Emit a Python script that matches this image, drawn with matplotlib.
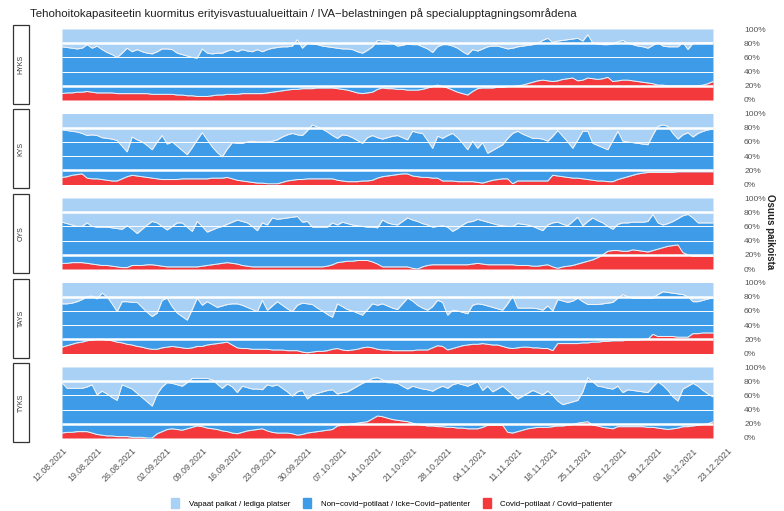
import numpy as np
import pandas as pd
import matplotlib
matplotlib.use('Agg')
from matplotlib import pyplot as plt
from matplotlib.patches import Rectangle, Patch
import matplotlib.dates as mdates

plt.rcParams['font.family'] = ['Liberation Sans', 'DejaVu Sans']

dates = pd.date_range('2021-08-12', periods=131, freq='D')
tick_dates = pd.date_range('2021-08-12', '2021-12-23', freq='7D')
regions = ['HYKS', 'KYS', 'OYS', 'TAYS', 'TYKS']

# occupied share = covid + non-covid patients, % of ICU beds
hyks_occupied = [75, 74, 73, 72, 73, 78, 73, 76, 71, 67, 64, 60, 66, 73, 68, 71, 68, 66, 65, 68,
                 72, 72, 71, 66, 64, 62, 60, 59, 72, 66, 65, 66, 66, 69, 71, 68, 71, 69, 68, 71,
                 68, 71, 73, 74, 75, 75, 76, 85, 73, 80, 79, 78, 76, 75, 74, 73, 72, 72, 71, 68,
                 66, 70, 75, 84, 83, 83, 80, 76, 77, 79, 78, 78, 75, 72, 67, 75, 78, 78, 76, 73,
                 68, 64, 71, 69, 72, 75, 76, 76, 74, 72, 73, 75, 76, 77, 78, 80, 84, 87, 81, 83,
                 84, 85, 86, 87, 83, 92, 80, 79, 78, 78, 79, 82, 84, 80, 78, 76, 75, 73, 77, 81,
                 76, 75, 75, 75, 81, 71, 80, 81, 81, 81, 81]
hyks_covid = [9, 10, 10, 11, 11, 12, 11, 10, 10, 10, 10, 9, 9, 9, 9, 9, 9, 9, 8, 8,
              8, 8, 8, 7, 7, 6, 6, 5, 5, 5, 6, 7, 7, 8, 8, 8, 9, 9, 9, 9,
              9, 10, 11, 12, 13, 14, 15, 15, 16, 16, 16, 17, 17, 17, 17, 16, 15, 14, 12, 10,
              9, 10, 11, 15, 17, 16, 16, 15, 15, 14, 14, 14, 15, 17, 19, 21, 19, 17, 14, 11,
              9, 7, 12, 16, 17, 17, 17, 18, 18, 19, 19, 20, 21, 23, 25, 27, 28, 27, 26, 27,
              29, 30, 31, 27, 28, 31, 30, 29, 30, 32, 26, 27, 28, 28, 27, 26, 25, 24, 23, 21,
              21, 20, 20, 20, 20, 20, 20, 20, 21, 23, 26]

kys_occupied = [77, 76, 75, 74, 72, 69, 70, 69, 66, 65, 64, 62, 54, 46, 67, 63, 60, 55, 49, 60,
                69, 57, 60, 54, 48, 42, 52, 63, 73, 63, 53, 45, 39, 50, 59, 58, 58, 60, 61, 60,
                60, 60, 61, 63, 67, 70, 72, 70, 69, 76, 84, 81, 78, 74, 69, 65, 70, 69, 66, 62,
                58, 66, 69, 66, 64, 66, 68, 69, 66, 63, 75, 73, 72, 62, 51, 68, 65, 69, 72, 66,
                58, 49, 61, 51, 59, 44, 48, 52, 56, 65, 72, 75, 71, 68, 65, 65, 64, 61, 68, 76,
                68, 60, 51, 63, 75, 75, 58, 55, 52, 49, 62, 75, 61, 60, 59, 58, 57, 56, 70, 82,
                84, 82, 72, 64, 70, 73, 67, 72, 75, 77, 78]
kys_covid = [10, 11, 13, 14, 15, 9, 8, 8, 7, 6, 5, 5, 8, 11, 13, 12, 11, 10, 9, 8,
             7, 7, 7, 7, 8, 8, 8, 8, 8, 8, 9, 9, 9, 10, 8, 6, 5, 4, 3, 2,
             2, 1, 1, 1, 3, 5, 6, 7, 7, 8, 8, 8, 8, 8, 8, 6, 5, 4, 4, 4,
             5, 5, 6, 9, 11, 12, 13, 14, 15, 15, 12, 11, 10, 10, 9, 9, 5, 5, 5, 4,
             4, 4, 4, 3, 2, 4, 6, 7, 8, 8, 1, 5, 5, 5, 5, 5, 5, 5, 13, 12,
             11, 10, 9, 9, 8, 7, 6, 5, 5, 4, 4, 7, 9, 11, 13, 15, 16, 17, 17, 17,
             17, 17, 17, 18, 18, 18, 18, 18, 18, 18, 18]

oys_occupied = [66, 64, 62, 60, 60, 65, 60, 59, 59, 59, 58, 57, 56, 61, 56, 50, 56, 62, 67, 65,
                60, 55, 60, 65, 65, 59, 53, 67, 60, 52, 55, 58, 60, 63, 66, 69, 67, 65, 60, 54,
                65, 62, 72, 70, 71, 72, 73, 74, 66, 67, 59, 59, 59, 59, 65, 62, 66, 64, 62, 61,
                60, 59, 59, 58, 69, 65, 63, 62, 67, 72, 69, 67, 64, 62, 59, 60, 61, 59, 53, 57,
                62, 66, 67, 70, 68, 66, 64, 62, 61, 60, 60, 64, 63, 62, 60, 57, 54, 62, 65, 66,
                63, 61, 67, 73, 61, 67, 72, 68, 65, 60, 56, 63, 65, 65, 66, 66, 66, 67, 77, 65,
                62, 64, 67, 71, 75, 77, 72, 65, 65, 65, 65]
oys_covid = [8, 8, 9, 9, 9, 8, 7, 6, 5, 5, 4, 3, 2, 2, 5, 5, 5, 6, 6, 5,
             4, 3, 3, 3, 3, 3, 3, 3, 4, 5, 6, 7, 8, 9, 8, 7, 5, 4, 3, 3,
             3, 3, 3, 3, 3, 3, 3, 3, 3, 3, 3, 3, 3, 4, 6, 9, 10, 11, 11, 12,
             12, 12, 10, 7, 3, 3, 3, 3, 3, 3, 1, 0, 3, 5, 6, 6, 6, 6, 6, 6,
             6, 6, 7, 8, 7, 6, 6, 6, 6, 6, 6, 5, 5, 5, 4, 4, 5, 6, 3, 1,
             3, 4, 5, 7, 9, 11, 13, 16, 20, 25, 26, 26, 25, 25, 27, 26, 25, 24, 26, 28,
             30, 32, 33, 34, 23, 20, 18, 18, 18, 18, 18]

tays_occupied = [70, 70, 71, 73, 76, 80, 81, 77, 85, 80, 70, 59, 73, 73, 72, 72, 65, 58, 52, 57,
                 75, 78, 66, 57, 52, 47, 62, 78, 68, 73, 69, 65, 67, 69, 70, 70, 68, 65, 62, 59,
                 75, 61, 67, 73, 68, 63, 59, 68, 71, 70, 69, 64, 60, 55, 51, 70, 66, 62, 60, 57,
                 54, 62, 70, 68, 70, 67, 64, 62, 70, 78, 74, 68, 64, 61, 66, 75, 72, 54, 61, 60,
                 58, 56, 68, 70, 69, 67, 65, 63, 61, 70, 81, 64, 64, 64, 64, 63, 61, 67, 60, 76,
                 74, 72, 74, 78, 73, 69, 69, 69, 70, 71, 72, 78, 83, 80, 78, 78, 78, 78, 78, 83,
                 87, 86, 85, 84, 83, 80, 73, 73, 75, 77, 78]
tays_covid = [9, 11, 13, 15, 16, 18, 19, 20, 20, 19, 18, 16, 15, 13, 12, 10, 9, 7, 6, 6,
              8, 9, 10, 9, 8, 7, 8, 10, 10, 12, 13, 14, 15, 16, 12, 8, 7, 7, 6, 6,
              6, 6, 5, 5, 5, 4, 4, 4, 2, 1, 2, 3, 3, 4, 6, 7, 5, 4, 5, 6,
              8, 9, 8, 6, 5, 5, 4, 4, 4, 4, 4, 5, 5, 5, 8, 11, 10, 5, 7, 9,
              11, 12, 13, 13, 14, 13, 12, 12, 10, 8, 7, 8, 9, 9, 8, 8, 7, 7, 4, 14,
              14, 14, 14, 14, 15, 15, 16, 16, 17, 17, 18, 18, 18, 19, 19, 19, 20, 20, 27, 24,
              24, 24, 24, 23, 23, 23, 28, 28, 29, 29, 29]

tyks_occupied = [78, 70, 70, 70, 70, 72, 75, 61, 66, 62, 57, 53, 75, 72, 69, 63, 57, 51, 45, 62,
                 72, 78, 77, 75, 73, 78, 84, 84, 84, 84, 82, 76, 70, 76, 72, 64, 73, 71, 69, 69,
                 68, 75, 73, 75, 70, 65, 59, 65, 67, 55, 61, 63, 65, 67, 68, 62, 64, 65, 69, 73,
                 77, 80, 84, 85, 82, 78, 78, 77, 73, 69, 73, 71, 69, 68, 66, 70, 73, 70, 75, 77,
                 75, 73, 76, 79, 67, 73, 65, 69, 73, 67, 61, 55, 59, 63, 67, 64, 61, 66, 60, 52,
                 47, 49, 51, 53, 65, 85, 79, 73, 72, 70, 69, 73, 64, 68, 67, 66, 65, 64, 72, 79,
                 74, 67, 58, 52, 69, 73, 77, 73, 67, 62, 58]
tyks_covid = [7, 8, 8, 9, 9, 9, 7, 5, 4, 3, 3, 2, 2, 2, 1, 1, 1, 0, 0, 6,
              9, 12, 13, 12, 11, 13, 15, 17, 16, 14, 13, 12, 10, 9, 7, 6, 8, 10, 11, 12,
              13, 10, 8, 7, 7, 7, 6, 4, 5, 7, 8, 9, 10, 11, 12, 17, 18, 19, 20, 21,
              22, 23, 27, 31, 30, 28, 26, 25, 24, 23, 21, 19, 18, 17, 17, 16, 16, 15, 15, 14,
              14, 13, 13, 13, 15, 18, 18, 18, 18, 8, 7, 9, 11, 13, 14, 15, 15, 15, 16, 17,
              17, 18, 19, 21, 22, 23, 18, 17, 15, 14, 13, 16, 16, 16, 16, 16, 16, 15, 15, 14,
              13, 12, 13, 14, 16, 16, 17, 18, 19, 20, 23]

occupied = [hyks_occupied, kys_occupied, oys_occupied, tays_occupied, tyks_occupied]
covid = [hyks_covid, kys_covid, oys_covid, tays_covid, tyks_covid]

c_free = '#a9d0f5'
c_noncovid = '#3d9be8'
c_covid = '#f4393d'

W, H = 784, 511
fig = plt.figure(figsize=(W / 100, H / 100), dpi=100)

fig.text(30 / W, 1 - 14 / H,
         'Tehohoitokapasiteetin kuormitus erityisvastuualueittain / IVA\u2212belastningen på specialupptagningsområdena',
         fontsize=8.25, ha='left', va='center', color='#222222')

x0 = mdates.date2num(dates[0])
for i, region in enumerate(regions):
    top = 29 + i * 84.5
    ph = 71
    ax = fig.add_axes([62 / W, 1 - (top + ph) / H, (733 - 62) / W, ph / H])
    occ = np.array(occupied[i])
    cov = np.array(covid[i])
    ax.fill_between(dates, 0, cov, color=c_covid, lw=0)
    ax.fill_between(dates, cov, occ, color=c_noncovid, lw=0)
    ax.fill_between(dates, occ, 100, color=c_free, lw=0)
    ax.plot(dates, cov, color='#f4f4f4', lw=0.7)
    ax.plot(dates, occ, color='#f4f4f4', lw=0.7)
    for yv, lw in [(20, 1.8), (40, 0.7), (60, 0.7), (80, 1.8)]:
        ax.hlines(yv, dates[0], dates[-1], colors='white', lw=lw)

    ax.set_xlim(x0, x0 + 134)
    ax.set_ylim(0, 100)
    for s in ax.spines.values():
        s.set_visible(False)
    ax.yaxis.tick_right()
    ax.set_yticks([0, 20, 40, 60, 80, 100])
    ax.set_yticklabels(['0%', '20%', '40%', '60%', '80%', '100%'])
    ax.tick_params(axis='y', length=0, pad=8, labelsize=6, labelcolor='#555555')
    ax.set_xticks(tick_dates)
    if i == len(regions) - 1:
        ax.set_xticklabels([d.strftime('%d.%m.%Y') for d in tick_dates])
        ax.tick_params(axis='x', length=0, pad=6, labelsize=6.3, labelcolor='#555555')
        for lab in ax.get_xticklabels():
            lab.set_rotation(45)
            lab.set_ha('right')
            lab.set_va('top')
            lab.set_rotation_mode('anchor')
    else:
        ax.tick_params(axis='x', length=0, labelbottom=False)

    # facet strip on the left
    fig.patches.append(Rectangle((13 / W, 1 - (top + ph + 4) / H), 16 / W, (ph + 8) / H,
                                 transform=fig.transFigure, fill=False, ec='#333333', lw=0.9))
    fig.text(21 / W, 1 - (top + ph / 2) / H, region, rotation=90, fontsize=5,
             ha='center', va='center', color='#333333')

fig.text(770 / W, 1 - 232 / H, 'Osuus paikoista', rotation=270, fontsize=7,
         fontweight='bold', ha='center', va='center', color='#222222')

handles = [Patch(color=c_free), Patch(color=c_noncovid), Patch(color=c_covid)]
labels = ['Vapaat paikat / lediga platser',
          'Non\u2212covid\u2212potilaat / Icke\u2212Covid\u2212patienter',
          'Covid\u2212potilaat / Covid\u2212patienter']
fig.legend(handles, labels, loc='center', bbox_to_anchor=(0.5, 1 - 503 / H), ncol=3,
           frameon=False, fontsize=5.65, handlelength=1.0, handleheight=1.65,
           columnspacing=1.65, handletextpad=1.25)

fig.savefig('out.png', dpi=100)
